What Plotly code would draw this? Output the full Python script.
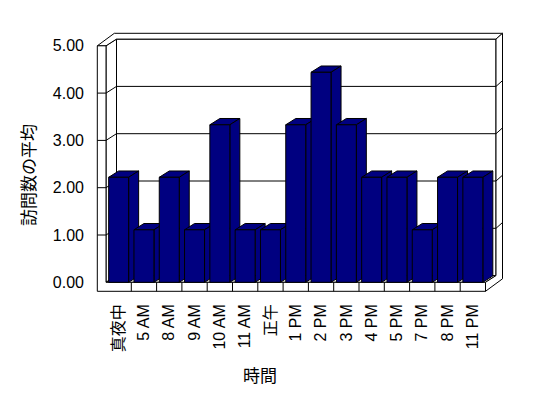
import plotly.graph_objects as go

# ---- data ----
categories = ["真夜中", "5 AM", "8 AM", "9 AM", "10 AM", "11 AM", "正午",
              "1 PM", "2 PM", "3 PM", "4 PM", "5 PM", "7 PM", "8 PM", "11 PM"]
values = [2.22, 1.11, 2.22, 1.11, 3.33, 1.11, 1.11, 3.33, 4.44, 3.33,
          2.22, 2.22, 1.11, 2.22, 2.22]
y_ticks = [0, 1, 2, 3, 4, 5]
y_tick_labels = ["0.00", "1.00", "2.00", "3.00", "4.00", "5.00"]
x_title = "時間"
y_title = "訪問数の平均"

# ---- layout geometry (pixels of the 548x398 window) ----
OFF = 8                      # default page body margin
W, H = 548 - 2 * OFF, 398 - 2 * OFF
PL, PR, PT, PB = 90, 510, 25, 295
CAT_PX = 25.3          # px per category
UNIT_PX = 47.3         # px per value unit
X0_PX = 118.65         # px of category 0 centre
Y0_PX = 282.3          # px of value 0 (front plane)

xr = [(PL - X0_PX) / CAT_PX, (PR - X0_PX) / CAT_PX]
yr = [(Y0_PX - PB) / UNIT_PX, (Y0_PX - PT) / UNIT_PX]

n = len(categories)
xl, xrgt = -0.5, n - 0.5                 # inner floor extent
wall = 8.7 / CAT_PX                      # left wall thickness
xo = xl - wall
t = 9.0 / UNIT_PX                        # floor thickness
top = max(y_ticks)
Dix, Diy = 10.5 / CAT_PX, 6.7 / UNIT_PX  # depth to back wall face
Dox, Doy = 17.0 / CAT_PX, 12.5 / UNIT_PX # depth to back wall rear
bw = 0.79                                # bar front width
bdx, bdy = 10.0 / CAT_PX, 6.3 / UNIT_PX  # bar depth

NAVY = "#000080"
LINE = dict(color="black", width=1)


def path(pts):
    return "M " + " L ".join(f"{x:.4f},{y:.4f}" for x, y in pts) + " Z"


shapes = []


def poly(pts, fill):
    shapes.append(dict(type="path", xref="x", yref="y", path=path(pts),
                       fillcolor=fill, line=LINE, layer="below"))


def seg(p, q):
    shapes.append(dict(type="line", xref="x", yref="y", x0=p[0], y0=p[1],
                       x1=q[0], y1=q[1], line=LINE, layer="below"))


# back wall face
poly([(xl + Dix, Diy), (xrgt + Dix, Diy), (xrgt + Dix, top + Diy), (xl + Dix, top + Diy)], "white")
# left wall inner face
poly([(xl, 0), (xl, top), (xl + Dix, top + Diy), (xl + Dix, Diy)], "white")
# floor top face
poly([(xl, 0), (xrgt, 0), (xrgt + Dix, Diy), (xl + Dix, Diy)], "white")
# top strip of walls
poly([(xo, top), (xl, top), (xl + Dix, top + Diy), (xrgt + Dix, top + Diy),
      (xrgt + Dox, top + Doy), (xo + Dox, top + Doy)], "white")
# right side faces (floor + back wall)
poly([(xrgt, 0), (xrgt, -t), (xrgt + Dox, -t + Doy), (xrgt + Dox, top + Doy),
      (xrgt + Dix, top + Diy), (xrgt + Dix, Diy)], "white")
# front faces of left wall and floor
poly([(xo, -t), (xrgt, -t), (xrgt, 0), (xl, 0), (xl, top), (xo, top)], "white")

# gridlines / ticks
for v in y_ticks[1:-1]:
    seg((xo, v), (xl, v))
    seg((xl, v), (xl + Dix, v + Diy))
    seg((xl + Dix, v + Diy), (xrgt + Dix, v + Diy))
    seg((xrgt + Dix, v + Diy), (xrgt + Dox, v + Doy))

# floor dividers
for i in range(n - 1):
    seg((i + 0.5, -t), (i + 0.5, 0))

# bar top and side faces (drawn beneath the bar fronts, left to right)
for i, v in enumerate(values):
    r = i + bw / 2
    lft = i - bw / 2
    poly([(lft, v), (r, v), (r + bdx, v + bdy), (lft + bdx, v + bdy)], NAVY)
    poly([(r, 0), (r, v), (r + bdx, v + bdy), (r + bdx, bdy)], NAVY)

fig = go.Figure()
fig.add_trace(go.Bar(
    x=list(range(n)), y=values, width=bw,
    marker=dict(color=NAVY, line=LINE),
    hoverinfo="skip", showlegend=False,
))

FONT = "Liberation Sans, Noto Sans CJK JP, sans-serif"

fig.update_layout(
    width=W, height=H,
    margin=dict(l=PL - OFF, r=W - (PR - OFF), t=PT - OFF, b=H - (PB - OFF), pad=0),
    paper_bgcolor="white", plot_bgcolor="rgba(0,0,0,0)",
    font=dict(family=FONT, size=16, color="black"),
    shapes=shapes,
    xaxis=dict(range=xr, tickmode="array", tickvals=list(range(n)),
               ticktext=categories, tickangle=-90, showgrid=False,
               zeroline=False, showline=False, ticks="",
               ticklabelstandoff=5,
               fixedrange=True, automargin=False),
    yaxis=dict(range=yr, tickmode="array", tickvals=y_ticks,
               ticktext=y_tick_labels, showgrid=False, zeroline=False,
               showline=False, ticks="", ticklabelstandoff=5,
               fixedrange=True, automargin=False),
    annotations=[
        dict(text=y_title, textangle=-90, xref="paper", yref="paper",
             x=(29 - PL) / (PR - PL), y=(PB - 175) / (PB - PT),
             showarrow=False, font=dict(size=17), xanchor="center",
             yanchor="middle"),
        dict(text=x_title, xref="paper", yref="paper",
             x=(260 - PL) / (PR - PL), y=(PB - 376) / (PB - PT),
             showarrow=False, font=dict(size=17), xanchor="center",
             yanchor="middle"),
    ],
)

fig.write_html("out.html")
